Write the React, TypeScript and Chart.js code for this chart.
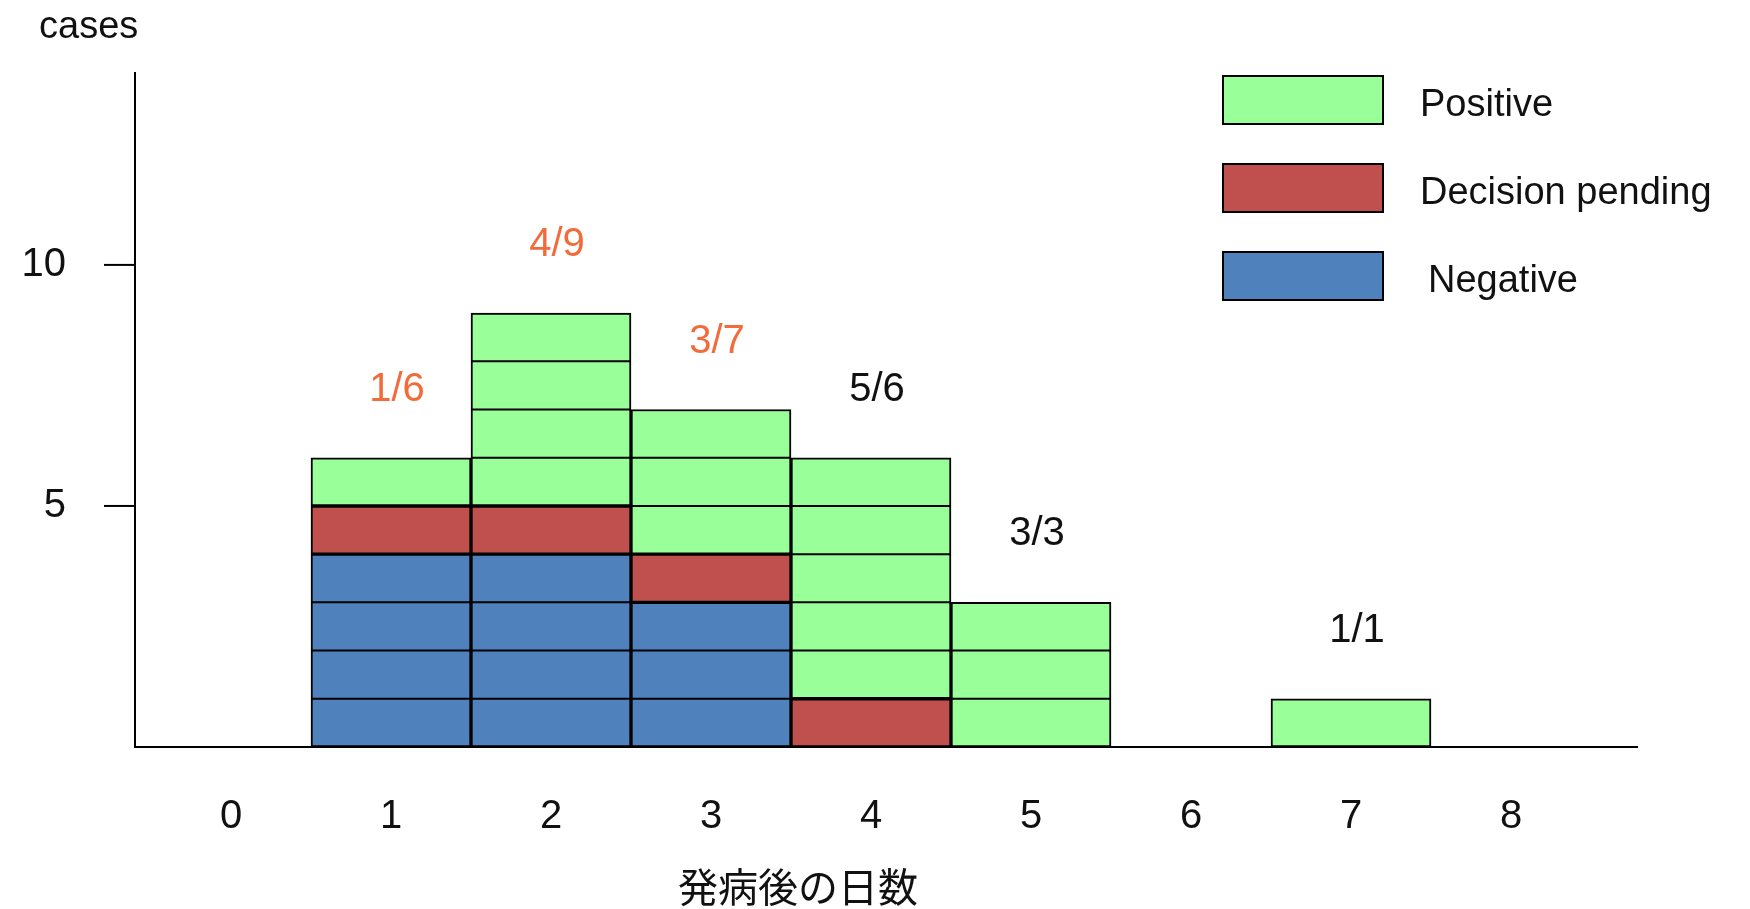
import React, { useEffect, useRef } from "react";
import { Chart, registerables } from "chart.js";
Chart.register(...registerables);

const days = ["0", "1", "2", "3", "4", "5", "6", "7", "8"];
const negative = [0, 4, 4, 3, 0, 0, 0, 0, 0];
const pending = [0, 1, 1, 1, 1, 0, 0, 0, 0];
const positive = [0, 1, 4, 3, 5, 3, 0, 1, 0];
const ratioLabels = ["", "1/6", "4/9", "3/7", "5/6", "3/3", "", "1/1", ""];
const ratioColors = ["", "#f26b3a", "#f26b3a", "#f26b3a", "#111", "#111", "", "#111", ""];
const yTicks = [5, 10];
const yAxisTop = 14;
const legendItems = [
  { label: "Positive", color: "#99ff99" },
  { label: "Decision pending", color: "#c0504d" },
  { label: "Negative", color: "#4f81bd" },
];
const xTitle = "発病後の日数";
const yTitle = "cases";
const FONT = "'Liberation Sans', Arial, sans-serif";

const unitLines = {
  id: "unitLines",
  afterDatasetsDraw(chart: any) {
    const ctx = chart.ctx;
    const y = chart.scales.y;
    const area = chart.chartArea;
    ctx.save();
    ctx.strokeStyle = "#000";
    ctx.lineWidth = 2;
    chart.data.datasets.forEach((ds: any, di: number) => {
      const meta = chart.getDatasetMeta(di);
      meta.data.forEach((el: any, i: number) => {
        const v = ds.data[i];
        if (!v) return;
        let start = 0;
        for (let k = 0; k < di; k++) start += chart.data.datasets[k].data[i];
        const half = el.width / 2;
        for (let u = 1; u < v; u++) {
          const py = y.getPixelForValue(start + u);
          ctx.beginPath();
          ctx.moveTo(el.x - half, py);
          ctx.lineTo(el.x + half, py);
          ctx.stroke();
        }
      });
    });
    const ax = area.left - 16;
    const by = y.getPixelForValue(0);
    ctx.beginPath();
    ctx.moveTo(ax, y.getPixelForValue(yAxisTop));
    ctx.lineTo(ax, by);
    ctx.lineTo(area.right + 47, by);
    ctx.stroke();
    yTicks.forEach((v) => {
      const py = y.getPixelForValue(v);
      ctx.beginPath();
      ctx.moveTo(ax - 31, py);
      ctx.lineTo(ax, py);
      ctx.stroke();
    });
    ctx.font = `40px ${FONT}`;
    ctx.textAlign = "center";
    ctx.textBaseline = "middle";
    const meta = chart.getDatasetMeta(0);
    ratioLabels.forEach((t, i) => {
      if (!t) return;
      const total = negative[i] + pending[i] + positive[i];
      ctx.fillStyle = ratioColors[i];
      ctx.fillText(t, meta.data[i].x + 6, y.getPixelForValue(total) - 68);
    });
    legendItems.forEach((it, k) => {
      const ly = 76 + k * 88;
      ctx.fillStyle = it.color;
      ctx.fillRect(1223, ly, 160, 48);
      ctx.strokeRect(1223, ly, 160, 48);
      ctx.fillStyle = "#111";
      ctx.textAlign = "left";
      ctx.font = `38px ${FONT}`;
      ctx.fillText(it.label, k === 2 ? 1428 : 1420, ly + 30);
    });
    ctx.font = `38px ${FONT}`;
    ctx.fillText(yTitle, 39, 28);
    ctx.textAlign = "center";
    ctx.font = `40px 'Noto Sans CJK JP'`;
    ctx.fillText(xTitle, 798, 887);
    ctx.restore();
  },
};

export default function App() {
  const ref = useRef<HTMLCanvasElement>(null);
  useEffect(() => {
    const mk = (label: string, data: number[], color: string) => ({
      label, data, backgroundColor: color, borderColor: "#000", borderWidth: 2,
      borderSkipped: false, barPercentage: 1, categoryPercentage: 1,
    });
    const chart = new Chart(ref.current!, {
      type: "bar",
      data: {
        labels: days,
        datasets: [
          mk("Negative", negative, "#4f81bd"),
          mk("Decision pending", pending, "#c0504d"),
          mk("Positive", positive, "#99ff99"),
        ],
      },
      options: {
        animation: false,
        responsive: false,
        layout: { padding: { left: 0, right: 159, top: 40, bottom: 0 } },
        plugins: { legend: { display: false }, tooltip: { enabled: false } },
        scales: {
          x: {
            stacked: true,
            afterFit(s: any) { s.height = 162; },
            grid: { display: false },
            border: { display: false },
            ticks: { color: "#111", font: { size: 40, family: FONT }, padding: 38 },
          },
          y: {
            stacked: true,
            min: 0,
            max: 13.4,
            afterFit(s: any) { s.width = 151; },
            afterBuildTicks(s: any) { s.ticks = yTicks.map((v) => ({ value: v })); },
            grid: { display: false },
            border: { display: false },
            ticks: { color: "#111", font: { size: 40, family: FONT }, padding: 77 },
          },
        },
      },
      plugins: [unitLines],
    });
    return () => chart.destroy();
  }, []);
  return (
    <div style={{ position: "fixed", left: 0, top: 0, width: 1750, height: 909, background: "#fff" }}>
      <canvas ref={ref} width={1750} height={909} />
    </div>
  );
}
